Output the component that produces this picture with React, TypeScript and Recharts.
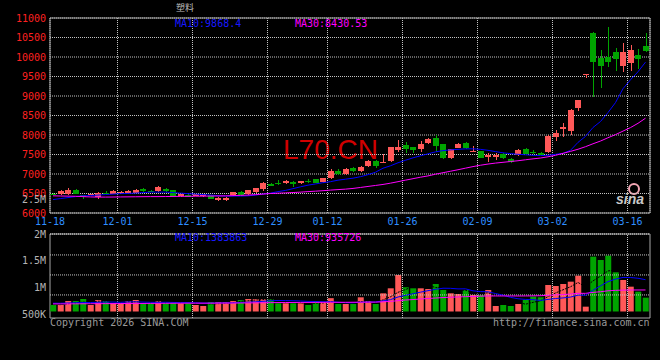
import React from 'react';
import {
  ComposedChart,
  Bar,
  Line,
  XAxis,
  YAxis,
  CartesianGrid,
  ReferenceArea,
  ReferenceLine,
  Cell,
} from 'recharts';

// trading days shown on the chart
const dates = [
  '11-18', '11-19', '11-20', '11-21', '11-24', '11-25', '11-26', '11-27', '11-28',
  '12-01', '12-02', '12-03', '12-04', '12-05', '12-08', '12-09', '12-10', '12-11', '12-12',
  '12-15', '12-16', '12-17', '12-18', '12-19', '12-22', '12-23', '12-24', '12-25', '12-26',
  '12-29', '12-30', '12-31',
  '01-05', '01-06', '01-07', '01-08', '01-09', '01-12', '01-13', '01-14', '01-15', '01-16',
  '01-19', '01-20', '01-21', '01-22', '01-23', '01-26', '01-27', '01-28', '01-29', '01-30',
  '02-02', '02-03', '02-04', '02-05', '02-06', '02-09', '02-10', '02-11', '02-12', '02-13',
  '02-23', '02-24', '02-25', '02-26', '02-27',
  '03-02', '03-03', '03-04', '03-05', '03-06', '03-09', '03-10', '03-11', '03-12', '03-13',
  '03-16', '03-17', '03-18',
];

const xLabels = ['11-18', '12-01', '12-15', '12-29', '01-12', '01-26', '02-09', '03-02', '03-16'];

const opens = [
  6490, 6485, 6485, 6580, 6455, 6470, 6405, 6525, 6485, 6510,
  6510, 6520, 6620, 6565, 6560, 6620, 6580, 6425, 6465, 6445,
  6435, 6450, 6330, 6330, 6450, 6535, 6485, 6535, 6610, 6750,
  6775, 6760, 6800, 6760, 6820, 6860, 6790, 6885, 7079, 6995,
  7155, 7079, 7206, 7334, 7300, 7334, 7625, 7734, 7690, 7632,
  7793, 7930, 7760, 7410, 7675, 7793, 7600, 7581, 7435, 7435,
  7522, 7377, 7479, 7632, 7570, 7548, 7563, 7946, 8142, 8099,
  8685, 9550, 10623, 9970, 10003, 10131, 9774, 9850, 10055, 10284,
];
const highs = [
  6520, 6600, 6640, 6610, 6465, 6500, 6530, 6570, 6580, 6560,
  6585, 6610, 6650, 6590, 6680, 6640, 6600, 6500, 6480, 6500,
  6500, 6460, 6400, 6400, 6545, 6560, 6600, 6650, 6790, 6770,
  6840, 6840, 6810, 6830, 6860, 6870, 6910, 7120, 7140, 7160,
  7180, 7200, 7350, 7350, 7510, 7700, 7870, 7810, 7700, 7850,
  7935, 8010, 7780, 7640, 7800, 7810, 7710, 7600, 7530, 7540,
  7540, 7410, 7650, 7670, 7620, 7560, 7990, 8125, 8300, 8660,
  8910, 9565, 10630, 10177, 10768, 10240, 10368, 10310, 10215, 10608,
];
const lows = [
  6450, 6470, 6470, 6490, 6350, 6450, 6370, 6490, 6475, 6500,
  6500, 6510, 6540, 6530, 6550, 6550, 6430, 6410, 6410, 6430,
  6420, 6360, 6300, 6300, 6440, 6440, 6470, 6520, 6560, 6680,
  6720, 6750, 6660, 6750, 6780, 6770, 6780, 6870, 6970, 6980,
  7050, 7060, 7190, 7155, 7280, 7320, 7560, 7530, 7530, 7570,
  7780, 7570, 7390, 7390, 7660, 7650, 7565, 7400, 7300, 7370,
  7390, 7270, 7460, 7500, 7510, 7460, 7540, 7850, 7950, 8000,
  8614, 9470, 8966, 9195, 9731, 9646, 9603, 9633, 9705, 10131,
];
const closes = [
  6475, 6560, 6585, 6500, 6405, 6480, 6510, 6515, 6560, 6545,
  6570, 6580, 6560, 6555, 6660, 6560, 6445, 6490, 6420, 6490,
  6490, 6370, 6390, 6390, 6535, 6450, 6585, 6640, 6770, 6690,
  6770, 6825, 6740, 6815, 6815, 6775, 6900, 7070, 6995, 7140,
  7071, 7186, 7334, 7206, 7315, 7683, 7690, 7650, 7607, 7760,
  7887, 7708, 7410, 7630, 7777, 7665, 7600, 7410, 7479, 7497,
  7410, 7308, 7625, 7522, 7560, 7479, 7971, 8058, 8200, 8652,
  8907, 9562, 9876, 9774, 9876, 9960, 10131, 10182, 9945, 10156,
];

const priceMa10 = [
  6344, 6370, 6395, 6420, 6441, 6446, 6459, 6472, 6485, 6497,
  6502, 6510, 6523, 6535, 6535, 6535, 6523, 6510, 6497, 6485,
  6472, 6459, 6446, 6434, 6434, 6434, 6440, 6459, 6485, 6510,
  6548, 6579, 6625, 6671, 6714, 6745, 6778, 6803, 6842, 6867,
  6893, 6931, 6982, 7046, 7148, 7211, 7288, 7352, 7415, 7466,
  7517, 7568, 7599, 7619, 7632, 7645, 7645, 7632, 7607, 7574,
  7543, 7523, 7505, 7492, 7479, 7472, 7479, 7505, 7530, 7607,
  7811, 7964, 8193, 8346, 8576, 8831, 9188, 9417, 9621, 9868.4,
];
const priceMa30 = [
  6440, 6436, 6432, 6428, 6420, 6412, 6408, 6408, 6410, 6412,
  6414, 6416, 6418, 6420, 6420, 6422, 6424, 6426, 6428, 6430,
  6432, 6434, 6436, 6440, 6446, 6452, 6460, 6470, 6485, 6500,
  6508, 6516, 6525, 6535, 6548, 6560, 6572, 6587, 6600, 6612,
  6630, 6655, 6681, 6706, 6732, 6765, 6803, 6842, 6880, 6918,
  6951, 6995, 7033, 7071, 7109, 7150, 7190, 7225, 7255, 7280,
  7300, 7320, 7340, 7365, 7388, 7410, 7441, 7479, 7530, 7580,
  7635, 7700, 7775, 7845, 7930, 8010, 8100, 8190, 8300, 8430.53,
];

const volumes = [
  283000, 283000, 457000, 457000, 544000, 283000, 500000, 457000, 356000, 356000,
  457000, 500000, 356000, 356000, 457000, 356000, 413000, 356000, 356000, 283000,
  239000, 413000, 413000, 413000, 457000, 500000, 544000, 544000, 544000, 544000,
  356000, 356000, 356000, 356000, 283000, 457000, 413000, 580000, 326000, 326000,
  326000, 617000, 457000, 326000, 791000, 1009000, 1588000, 1053000, 1009000, 1009000,
  979000, 1196000, 935000, 791000, 761000, 935000, 718000, 718000, 935000, 239000,
  283000, 239000, 326000, 500000, 645000, 617000, 1153000, 1109000, 1196000, 1298000,
  1559000, 210000, 2385000, 2240000, 2429000, 1705000, 1370000, 1080000, 862000, 602000,
];
const volMa5 = [
  300000, 300000, 340000, 370000, 405000, 405000, 448000, 448000, 428000, 390000,
  425000, 425000, 405000, 405000, 425000, 405000, 388000, 388000, 388000, 353000,
  329000, 329000, 341000, 356000, 387000, 439000, 465000, 500000, 518000, 535000,
  506000, 469000, 431000, 394000, 341000, 362000, 373000, 418000, 412000, 420000,
  394000, 435000, 410000, 410000, 503000, 640000, 834000, 953000, 1090000, 1134000,
  1128000, 1049000, 1026000, 982000, 932000, 924000, 828000, 785000, 813000, 709000,
  579000, 487000, 404000, 317000, 399000, 465000, 648000, 805000, 944000, 1075000,
  1263000, 1074000, 1330000, 1538000, 1765000, 1794000, 2026000, 1765000, 1489000, 1124000,
];
const volMa10 = [
  360000, 360000, 370000, 380000, 390000, 390000, 400000, 410000, 410000, 400000,
  415000, 420000, 410000, 400000, 395000, 402000, 394000, 386000, 386000, 379000,
  367000, 367000, 372000, 377000, 377000, 391000, 404000, 423000, 442000, 468000,
  480000, 474000, 468000, 457000, 440000, 436000, 423000, 425000, 404000, 381000,
  378000, 404000, 414000, 411000, 462000, 517000, 630000, 703000, 772000, 841000,
  906000, 964000, 1012000, 1008000, 983000, 986000, 899000, 866000, 858000, 781000,
  711000, 615000, 554000, 525000, 514000, 482000, 525000, 564000, 591000, 627000,
  711000, 708000, 923000, 1115000, 1300000, 1409000, 1481000, 1478000, 1445000, 1383863,
];
const volMa30 = [
  330000, 330000, 332000, 334000, 336000, 338000, 340000, 342000, 344000, 346000,
  348000, 350000, 350000, 352000, 354000, 356000, 358000, 360000, 362000, 362000,
  362000, 362000, 364000, 366000, 368000, 370000, 372000, 376000, 380000, 384000,
  388000, 390000, 392000, 394000, 394000, 396000, 398000, 400000, 400000, 400000,
  402000, 404000, 406000, 408000, 420000, 440000, 470000, 500000, 520000, 545000,
  565000, 585000, 605000, 620000, 632000, 645000, 655000, 665000, 675000, 676000,
  676000, 675000, 674000, 676000, 680000, 685000, 705000, 720000, 735000, 760000,
  790000, 790000, 830000, 860000, 900000, 920000, 930000, 935000, 936000, 935726,
];

const priceTicks = [6000, 6500, 7000, 7500, 8000, 8500, 9000, 9500, 10000, 10500, 11000];
const volLabelTicks = [500000, 1000000, 1500000, 2000000];
const volGridTicks = [720000, 1590000, 2460000];

const RED = '#ff5858';
const GREEN = '#00a400';
const MONO = '"DejaVu Sans Mono", monospace';

const tickIdx = xLabels.map((l) => dates.indexOf(l));
const rows = dates.map((d, i) => ({
  i,
  date: d,
  open: opens[i],
  high: highs[i],
  low: lows[i],
  close: closes[i],
  ma10: priceMa10[i],
  ma30: priceMa30[i],
  vol: volumes[i],
  vma5: volMa5[i],
  vma10: volMa10[i],
  vma30: volMa30[i],
}));

const X_DOMAIN: [number, number] = [-0.4, 79.6];
const GRID_DOMAIN: [number, number] = [0, 80];
const VOL_DOMAIN: [number, number] = [-283000, 3371000];
const VOL_LABEL_DOMAIN: [number, number] = [440000, 2000000];

const Candle = (props: any) => {
  const { x, y, width, height, payload } = props;
  const { open, close, high, low } = payload;
  const color = close >= open ? RED : GREEN;
  const top = Math.min(y, y + height);
  const h = Math.abs(height);
  const k = high - low > 0 ? h / (high - low) : 0;
  const yO = top + (high - open) * k;
  const yC = top + (high - close) * k;
  const cx = Math.round(x + width / 2) + 0.5;
  return (
    <g shapeRendering="crispEdges">
      <line x1={cx} x2={cx} y1={top} y2={top + h} stroke={color} strokeWidth={1} />
      <rect x={x} y={Math.min(yO, yC)} width={width} height={Math.max(Math.abs(yO - yC), 1)} fill={color} />
    </g>
  );
};

const fmtVol = (v: number) => (v >= 1000000 ? `${v / 1000000}M` : `${v / 1000}K`);

const txt = (extra: React.CSSProperties): React.CSSProperties => ({
  position: 'absolute',
  fontFamily: MONO,
  fontSize: 10,
  lineHeight: '10px',
  whiteSpace: 'nowrap',
  ...extra,
});

export default function App() {
  return (
    <div style={{ position: 'fixed', left: 0, top: 0, width: 660, height: 360, background: '#000', overflow: 'hidden' }}>
      {/* watermark under the candles */}
      <div
        style={{
          position: 'absolute',
          left: 283,
          top: 136,
          fontFamily: '"Liberation Sans", Arial, sans-serif',
          fontSize: 28,
          lineHeight: '28px',
          color: '#d00000',
        }}
      >
        L70.CN
      </div>
      <div style={{ position: 'absolute', left: 616, top: 191, fontFamily: '"Liberation Sans", Arial, sans-serif', fontStyle: 'italic', fontWeight: 'bold', fontSize: 14, color: '#c8c8c8' }}>
        sina
      </div>
      <div style={{ position: 'absolute', left: 628, top: 183, width: 8, height: 8, borderRadius: 6, border: '2px solid #f2a6b4' }} />

      <div style={{ position: 'absolute', left: 0, top: 0 }}>
        <ComposedChart width={660} height={233} data={rows} margin={{ top: 18, right: 10, bottom: 0, left: 0 }}>
          <CartesianGrid xAxisId="g" stroke="#c4c4c4" strokeDasharray="1 1" />
          <XAxis
            xAxisId="g"
            type="number"
            dataKey="i"
            domain={GRID_DOMAIN}
            ticks={tickIdx}
            interval={0}
            tickFormatter={(v: number) => dates[v]}
            height={20}
            axisLine={false}
            tickLine={false}
            tickSize={0}
            tickMargin={5}
            tick={{ fill: '#2f8fff', fontSize: 10, fontFamily: MONO }}
          />
          <XAxis xAxisId="d" type="number" dataKey="i" domain={X_DOMAIN} height={0} hide />
          <YAxis
            type="number"
            domain={[6000, 11000]}
            ticks={priceTicks}
            interval={0}
            width={50}
            axisLine={false}
            tickLine={false}
            tickSize={0}
            tickMargin={4}
            tick={{ fill: '#ff2020', fontSize: 10, fontFamily: MONO }}
          />
          <ReferenceArea xAxisId="d" x1={X_DOMAIN[0]} x2={X_DOMAIN[1]} y1={6000} y2={11000} fillOpacity={0} stroke="#a8a8a8" />
          <Bar xAxisId="d" dataKey={(d: any) => [d.low, d.high]} shape={Candle} barSize={6} isAnimationActive={false} />
          <Line xAxisId="d" dataKey="ma10" stroke="#0000ff" strokeWidth={1} dot={false} isAnimationActive={false} />
          <Line xAxisId="d" dataKey="ma30" stroke="#ff00ff" strokeWidth={1} dot={false} isAnimationActive={false} />
        </ComposedChart>
      </div>

      <div style={{ position: 'absolute', left: 0, top: 226 }}>
        <ComposedChart width={660} height={100} data={rows} margin={{ top: 8, right: 10, bottom: 8, left: 0 }}>
          <XAxis xAxisId="d" type="number" dataKey="i" domain={X_DOMAIN} height={0} hide />
          <XAxis xAxisId="g" type="number" dataKey="i" domain={GRID_DOMAIN} height={0} hide />
          <YAxis
            yAxisId="lbl"
            type="number"
            domain={VOL_LABEL_DOMAIN}
            allowDataOverflow
            ticks={volLabelTicks}
            interval={0}
            tickFormatter={fmtVol}
            width={50}
            axisLine={false}
            tickLine={false}
            tickSize={0}
            tickMargin={4}
            tick={{ fill: '#b4b4b4', fontSize: 10, fontFamily: MONO }}
          />
          <YAxis yAxisId="v" type="number" domain={VOL_DOMAIN} width={0} hide />
          {volGridTicks.map((v) => (
            <ReferenceLine key={`h${v}`} xAxisId="d" yAxisId="v" y={v} stroke="#c4c4c4" strokeDasharray="1 1" />
          ))}
          {tickIdx.slice(1).map((t) => (
            <ReferenceLine key={`v${t}`} xAxisId="g" yAxisId="v" x={t} stroke="#c4c4c4" strokeDasharray="1 1" />
          ))}
          <ReferenceArea xAxisId="d" yAxisId="v" x1={X_DOMAIN[0]} x2={X_DOMAIN[1]} y1={VOL_DOMAIN[0]} y2={VOL_DOMAIN[1]} fillOpacity={0} stroke="#a8a8a8" />
          <ReferenceLine xAxisId="d" yAxisId="v" y={VOL_DOMAIN[1]} stroke="#e0e0e0" strokeDasharray="1 1" />
          {/* the label axis carries the same MA30 line, drawn invisibly, so that its ticks are rendered */}
          <Line xAxisId="d" yAxisId="lbl" dataKey="vma30" stroke="transparent" strokeWidth={0} dot={false} activeDot={false} legendType="none" isAnimationActive={false} />
          <Bar xAxisId="d" yAxisId="v" dataKey="vol" barSize={6} isAnimationActive={false}>
            {rows.map((r) => (
              <Cell key={`c${r.i}`} fill={r.close >= r.open ? RED : GREEN} />
            ))}
          </Bar>
          <Line xAxisId="d" yAxisId="v" dataKey="vma5" stroke="#000000" strokeWidth={1} strokeDasharray="2 1" dot={false} isAnimationActive={false} />
          <Line xAxisId="d" yAxisId="v" dataKey="vma10" stroke="#0000ff" strokeWidth={1} dot={false} isAnimationActive={false} />
          <Line xAxisId="d" yAxisId="v" dataKey="vma30" stroke="#ff00ff" strokeWidth={1} dot={false} isAnimationActive={false} />
        </ComposedChart>
      </div>

      <div style={txt({ left: 176, top: 3, fontFamily: '"Noto Sans CJK SC", sans-serif', fontSize: 9, color: '#bdbdbd' })}>塑料</div>
      <div style={txt({ left: 175, top: 19, color: '#1818ff' })}>MA10:9868.4</div>
      <div style={txt({ left: 295, top: 19, color: '#ff00ff' })}>MA30:8430.53</div>
      <div style={txt({ left: 0, top: 195, width: 46, textAlign: 'right', color: '#b4b4b4' })}>2.5M</div>
      <div style={txt({ left: 175, top: 233, color: '#1818ff' })}>MA10:1383863</div>
      <div style={txt({ left: 295, top: 233, color: '#ff00ff' })}>MA30:935726</div>
      <div style={txt({ left: 50, top: 318, color: '#9a9a9a' })}>Copyright 2026 SINA.COM</div>
      <div style={txt({ left: 493, top: 318, color: '#9a9a9a' })}>http://finance.sina.com.cn</div>
    </div>
  );
}
